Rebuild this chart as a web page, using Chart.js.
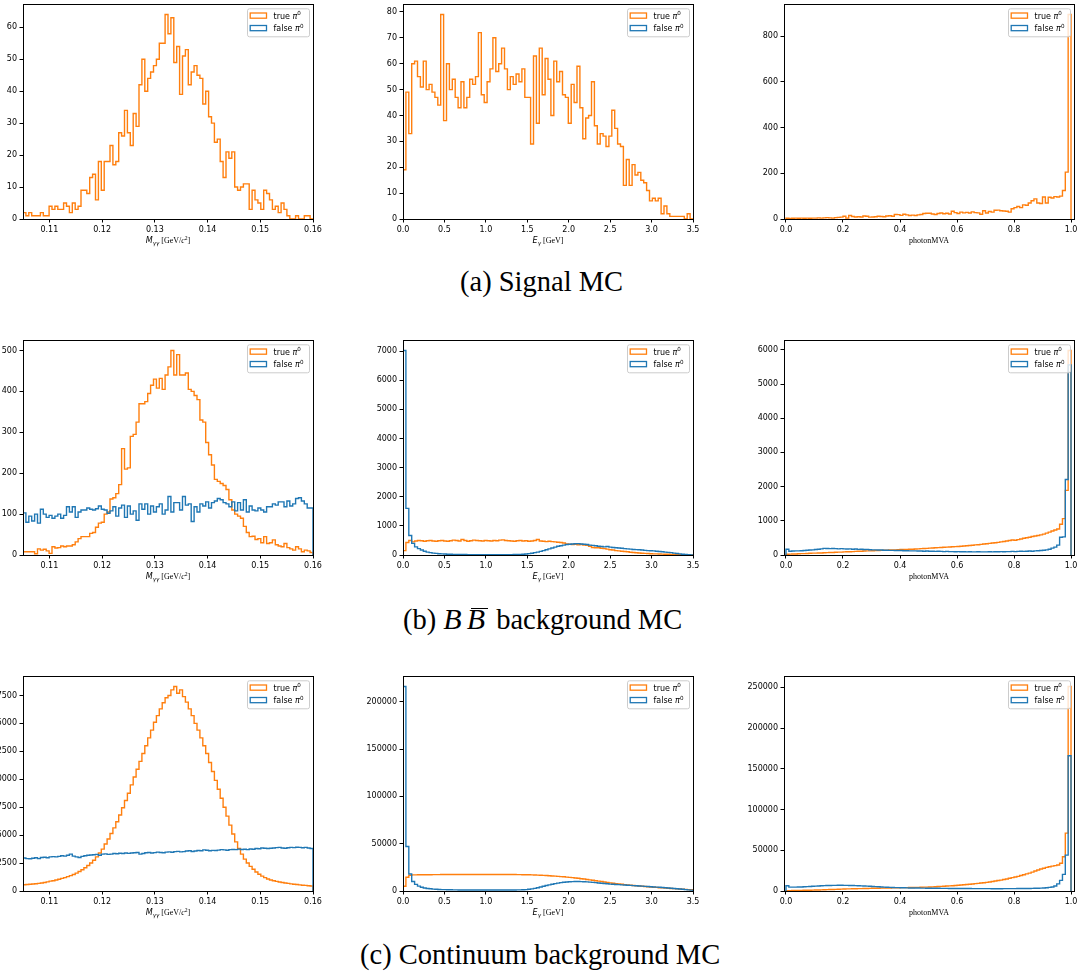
<!DOCTYPE html>
<html>
<head>
<meta charset="utf-8">
<script src="https://cdn.jsdelivr.net/npm/chart.js@4.4.0/dist/chart.umd.min.js"></script>
<style>
html, body { margin: 0; padding: 0; background: #fff; }
body { position: relative; width: 1079px; height: 976px; overflow: hidden; }
canvas { position: absolute; }
.cap { position: absolute; font-family: "Liberation Serif", "Times New Roman", serif; font-size: 28.5px; line-height: 28.5px; white-space: nowrap; color: #000; }
.mb { font-size: 30px; }
.ob { position: relative; display: inline-block; }
.ob::before { content: ""; position: absolute; left: 4px; right: -3px; top: 2.5px; border-top: 1.3px solid #000; }
</style>
</head>
<body>
<canvas id="c0"></canvas><canvas id="c1"></canvas><canvas id="c2"></canvas>
<canvas id="c3"></canvas><canvas id="c4"></canvas><canvas id="c5"></canvas>
<canvas id="c6"></canvas><canvas id="c7"></canvas><canvas id="c8"></canvas>
<div class="cap" style="left:460px;top:268px">(a) Signal MC</div>
<div class="cap" style="left:403px;top:605px">(b) <i class="mb" style="margin-right:5px">B</i><span class="ob"><i class="mb">B</i></span><span style="margin-left:4px"> background MC</span></div>
<div class="cap" style="left:360px;top:941px">(c) Continuum background MC</div>
<script>
const ORANGE = "#ff7f0e";
const BLUE = "#1f77b4";

// histogram ranges (100 bins each)
const massRange = [0.105, 0.16];
const energyRange = [0, 3.5];
const mvaRange = [0, 1];

// axis limits
const massXlim = [0.105, 0.16];
const energyXlim = [0, 3.5];
const mvaXlim = [-0.007, 1.0105];

// x tick labels
const massTicks = [0.11, 0.12, 0.13, 0.14, 0.15, 0.16];
const massTickLabels = ["0.11", "0.12", "0.13", "0.14", "0.15", "0.16"];
const energyTicks = [0, 0.5, 1, 1.5, 2, 2.5, 3, 3.5];
const energyTickLabels = ["0.0", "0.5", "1.0", "1.5", "2.0", "2.5", "3.0", "3.5"];
const mvaTicks = [0, 0.2, 0.4, 0.6, 0.8, 1];
const mvaTickLabels = ["0.0", "0.2", "0.4", "0.6", "0.8", "1.0"];

// y ticks
const sigMassYTicks = [0, 10, 20, 30, 40, 50, 60];
const sigEnergyYTicks = [0, 10, 20, 30, 40, 50, 60, 70, 80];
const sigMvaYTicks = [0, 200, 400, 600, 800];
const bbMassYTicks = [0, 100, 200, 300, 400, 500];
const bbEnergyYTicks = [0, 1000, 2000, 3000, 4000, 5000, 6000, 7000];
const bbMvaYTicks = [0, 1000, 2000, 3000, 4000, 5000, 6000];
const contMassYTicks = [0, 2500, 5000, 7500, 10000, 12500, 15000, 17500];
const contEnergyYTicks = [0, 50000, 100000, 150000, 200000];
const contMvaYTicks = [0, 50000, 100000, 150000, 200000, 250000];

// ---- signal MC ----
const sigMassTrue = [2,1,2,1,1,1,2,1,1,
  4,3,4,3,3,5,4,2,5,3,4,
  9,9,8,13,14,6,18,9,18,18,
  23,17,18,27,26,34,27,23,33,29,
  42,50,40,44,46,48,50,
  55,55,64,58,63,49,54,39,51,53,42,46,48,45,44,36,
  40,32,30,24,25,18,13,21,19,21,
  10,9,10,11,11,3,9,6,5,3,
  9,8,6,3,4,2,5,3,1,0,
  0,1,0,0,1,1,0];
const sigEnergyTrue = [19,49,33,60,61,55,51,61,50,52,
  49,47,44,79,38,60,50,54,47,43,
  53,43,47,54,52,55,72,48,45,53,
  58,70,57,60,66,58,50,55,52,56,
  53,58,47,47,29,63,37,66,48,62,
  54,40,61,53,57,48,47,37,52,45,
  59,43,31,39,40,53,36,29,33,32,
  28,32,42,35,29,28,13,23,13,21,
  17,18,15,14,11,7,8,7,8,2,
  5,2,1,1,1,1,1,0,2,0];
const sigMvaTrue = [3,2,3,4,3,4,3,4,3,4,
  4,5,4,5,6,5,4,6,7,8,
  12,4,15,11,9,10,9,13,12,8,
  9,10,12,11,10,13,14,12,20,19,
  16,21,18,15,17,15,18,20,24,25,
  25,22,20,24,26,23,25,22,34,28,
  24,30,27,29,26,31,28,27,21,36,
  26,33,30,38,39,36,35,34,30,45,
  50,55,50,62,60,70,80,88,70,68,
  96,70,95,92,98,96,100,125,205,895];

// ---- B Bbar background MC ----
const bbMassTrue = [8,8,8,8,3,15,12,14,10,4,
  20,17,18,22,20,22,22,25,32,40,
  45,45,45,53,55,68,78,80,100,105,
  137,140,150,172,260,210,213,290,295,325,
  370,370,375,395,415,430,408,432,405,440,
  460,500,440,490,440,440,445,405,400,390,
  380,330,325,275,245,220,185,180,175,170,
  160,135,110,100,95,90,70,55,45,46,
  38,40,30,45,28,30,37,25,22,20,
  28,18,15,12,20,15,8,12,10,6];
const bbMassFalse = [103,80,95,83,100,78,112,100,92,97,
  90,95,100,90,97,118,105,118,92,105,
  110,110,115,112,110,113,120,112,110,102,
  108,118,95,115,122,92,120,100,108,85,
  125,112,125,100,120,105,118,125,100,110,
  143,105,128,128,110,143,122,125,82,118,
  105,125,120,130,115,128,132,138,135,128,
  125,118,130,108,128,110,135,105,120,110,
  108,115,110,105,118,118,125,122,130,130,
  118,132,120,125,138,140,132,125,115,115];
const bbEnergyTrue = [150,430,500,450,480,500,490,470,490,500,
  480,470,490,500,480,470,490,510,500,480,
  530,500,470,490,510,500,490,480,500,490,
  480,500,490,510,520,500,490,480,470,490,
  500,480,490,470,480,500,530,480,470,460,
  470,460,450,440,430,410,380,370,360,370,
  350,360,340,330,300,260,250,250,230,220,
  200,180,170,150,140,130,120,110,95,85,
  75,70,60,55,50,45,40,38,35,30,
  28,25,22,18,15,12,10,8,6,5];
const bbEnergyFalse = [7020,1600,670,400,280,220,170,130,100,80,
  65,55,45,38,32,28,25,22,20,18,
  16,15,14,13,12,12,11,11,10,10,
  10,10,10,11,11,12,13,14,16,18,
  22,28,36,48,62,80,100,125,150,180,
  210,240,270,300,320,340,360,370,380,385,
  390,380,370,360,340,330,320,300,290,280,
  290,270,260,250,240,230,220,210,200,190,
  185,180,170,160,150,145,140,130,120,110,
  100,90,80,65,50,38,28,20,12,6];
const bbMvaTrue = [20,25,30,30,35,40,40,45,50,55,
  55,60,60,65,70,75,75,80,85,85,
  90,95,95,100,105,110,110,115,120,120,
  125,130,130,135,140,140,145,150,150,155,
  160,160,165,170,170,175,180,185,190,195,
  200,205,210,215,220,225,230,235,240,245,
  250,255,265,270,280,285,295,300,310,320,
  330,340,350,360,370,385,395,410,425,440,
  430,450,470,490,505,520,540,555,570,590,
  610,640,670,700,730,760,900,1065,1890,5980];
const bbMvaFalse = [170,110,115,120,120,125,130,140,145,150,
  160,170,180,195,190,185,190,185,180,185,
  180,175,180,170,175,165,170,160,165,155,
  150,150,145,145,140,140,135,135,130,130,
  130,125,125,120,120,120,115,115,110,115,
  110,110,105,110,105,100,105,100,100,95,
  100,95,95,90,95,90,90,95,90,90,
  90,95,90,95,95,100,95,100,100,105,
  100,105,110,105,110,115,110,120,125,130,
  140,150,170,200,230,290,520,530,2210,5560];

// ---- continuum background MC ----
const contMassTrue = [560,580,600,620,650,680,720,760,820,880,
  920,980,1050,1130,1200,1290,1380,1480,1600,1750,
  1900,2080,2280,2500,2750,3050,3400,3750,4200,4650,
  5150,5650,6200,6800,7450,8100,8750,9500,10200,10900,
  11600,12300,13000,13700,14400,15100,15700,16300,16850,17300,
  17500,18000,18300,17700,18000,17400,16900,16300,15700,15000,
  14400,13700,13000,12300,11500,10700,9900,9100,8300,7500,
  6700,5900,5100,4400,3800,3300,2850,2500,2200,1950,
  1700,1500,1330,1200,1080,990,920,860,810,760,
  720,680,640,610,580,550,520,500,470,450];
const contMassFalse = [2950,2900,2880,2930,2970,2900,3000,3020,2980,3050,
  3080,3050,3100,3150,3120,3200,3300,3120,3050,3000,
  3100,3150,3200,3220,3250,3280,3200,3300,3320,3280,
  3300,3350,3330,3380,3350,3400,3370,3400,3420,3450,
  3300,3350,3420,3450,3400,3430,3480,3450,3420,3480,
  3500,3470,3520,3550,3500,3520,3580,3600,3540,3580,
  3620,3600,3680,3650,3600,3640,3620,3660,3700,3680,
  3650,3700,3720,3700,3750,3720,3740,3700,3760,3740,
  3800,3780,3850,3830,3800,3820,3850,3880,3900,3850,
  3830,3870,3900,3880,3920,3900,3870,3900,3850,3800];
const contEnergyTrue = [5000,14500,16500,17000,17000,17100,17100,17200,17200,17200,
  17300,17300,17300,17400,17400,17400,17500,17500,17500,17500,
  17500,17500,17500,17500,17400,17400,17400,17400,17400,17400,
  17500,17500,17500,17500,17500,17500,17400,17400,17400,17300,
  17300,17200,17200,17100,17000,16900,16800,16700,16500,16300,
  16100,15900,15700,15500,15200,15000,14700,14400,14100,13800,
  13400,13000,12600,12200,11800,11300,10900,10400,10000,9500,
  9000,8600,8200,7800,7400,7100,6700,6400,6100,5800,
  5600,5300,5000,4800,4500,4300,4000,3800,3500,3300,
  3100,2900,2700,2500,2300,2100,1900,1700,1500,1300];
const contEnergyFalse = [216000,47000,18000,10000,7000,5200,4000,3200,2700,2300,
  2000,1800,1600,1500,1400,1300,1250,1200,1150,1100,
  1100,1050,1050,1000,1000,1000,1000,1000,1000,1000,
  1000,1000,1000,1000,1000,1050,1050,1100,1100,1150,
  1200,1300,1500,1800,2200,2800,3500,4200,5000,5800,
  6500,7200,7800,8300,8800,9200,9500,9700,9900,10000,
  10000,9900,9800,9600,9400,9100,8800,8500,8200,7900,
  7600,7300,7100,6900,6700,6500,6300,6100,5900,5700,
  5500,5300,5100,4900,4700,4500,4300,4100,3900,3700,
  3400,3100,2900,2600,2400,2100,1800,1500,1200,900];
const contMvaTrue = [400,500,550,650,700,800,850,950,1000,1100,
  1200,1300,1400,1550,1650,1800,1900,2050,2200,2350,
  2500,2580,2650,2730,2800,2880,2950,3050,3130,3200,
  3300,3380,3450,3530,3600,3680,3750,3850,3930,4000,
  4100,4150,4200,4300,4350,4450,4500,4600,4700,4800,
  4900,5100,5300,5500,5700,5900,6100,6300,6500,6750,
  7000,7300,7600,7900,8200,8600,9000,9400,9800,10200,
  10600,11100,11600,12200,12800,13400,14100,14800,15600,16400,
  17200,18000,19000,20000,21000,22000,23200,24500,25800,27000,
  28000,29000,29800,30500,31200,32000,34000,42000,71000,251000];
const contMvaFalse = [6500,4800,4700,4800,4900,5000,5200,5400,5600,5800,
  6000,6200,6400,6600,6700,6800,6900,6900,7000,7000,
  6900,6900,6800,6700,6600,6500,6300,6200,6000,5800,
  5600,5400,5200,5000,4800,4600,4500,4300,4200,4100,
  4000,3900,3800,3750,3700,3650,3600,3550,3500,3450,
  3400,3350,3300,3300,3250,3200,3200,3150,3100,3100,
  3050,3050,3000,3000,3000,2950,2950,2950,2900,2900,
  2900,2900,2850,2850,2850,2850,2900,2900,2900,2950,
  2950,3000,3000,3050,3100,3150,3200,3300,3400,3550,
  3700,4000,4400,5000,6200,8800,13000,20400,44000,166000];

// axis titles as styled text runs: [text, font, baseline shift]
const massTitle = [["M", "italic 8px 'DejaVu Sans'", 0], ["\u03b3\u03b3", "italic 5.6px 'DejaVu Sans'", 1.8],
  [" [GeV/", "8px 'Liberation Serif'", 0], ["c", "italic 8px 'Liberation Serif'", 0],
  ["2", "5.6px 'Liberation Serif'", -3.3], ["]", "8px 'Liberation Serif'", 0]];
const energyTitle = [["E", "italic 8px 'DejaVu Sans'", 0], ["\u03b3", "italic 5.6px 'DejaVu Sans'", 1.8],
  [" [GeV]", "8px 'Liberation Serif'", 0]];
const mvaTitle = [["photonMVA", "8px 'Liberation Serif'", 0]];

const legendEntries = [["true", ORANGE], ["false", BLUE]];

const cols = [
  { L: 23, W: 290, range: massRange, xlim: massXlim, ticks: massTicks, labels: massTickLabels, title: massTitle },
  { L: 403, W: 290, range: energyRange, xlim: energyXlim, ticks: energyTicks, labels: energyTickLabels, title: energyTitle },
  { L: 784, W: 290, range: mvaRange, xlim: mvaXlim, ticks: mvaTicks, labels: mvaTickLabels, title: mvaTitle },
];
const rowTops = [3, 339, 675];
const plotH = 216;

const panels = [
  { row: 0, col: 0, yTicks: sigMassYTicks, trueV: sigMassTrue, falseV: null },
  { row: 0, col: 1, yTicks: sigEnergyYTicks, trueV: sigEnergyTrue, falseV: null },
  { row: 0, col: 2, yTicks: sigMvaYTicks, trueV: sigMvaTrue, falseV: null },
  { row: 1, col: 0, yTicks: bbMassYTicks, trueV: bbMassTrue, falseV: bbMassFalse },
  { row: 1, col: 1, yTicks: bbEnergyYTicks, trueV: bbEnergyTrue, falseV: bbEnergyFalse },
  { row: 1, col: 2, yTicks: bbMvaYTicks, trueV: bbMvaTrue, falseV: bbMvaFalse },
  { row: 2, col: 0, yTicks: contMassYTicks, trueV: contMassTrue, falseV: contMassFalse },
  { row: 2, col: 1, yTicks: contEnergyYTicks, trueV: contEnergyTrue, falseV: contEnergyFalse },
  { row: 2, col: 2, yTicks: contMvaYTicks, trueV: contMvaTrue, falseV: contMvaFalse },
];

// outline of a step histogram: left edge up, flat tops, right edge down
function stepPoints(values, range) {
  const w = (range[1] - range[0]) / values.length;
  const pts = [{ x: range[0], y: 0 }];
  values.forEach((v, i) => pts.push({ x: range[0] + i * w, y: v }));
  pts.push({ x: range[1], y: values[values.length - 1] });
  pts.push({ x: range[1], y: 0 });
  return pts;
}

function runsWidth(ctx, runs) {
  let w = 0;
  runs.forEach(r => { ctx.font = r[1]; w += ctx.measureText(r[0]).width; });
  return w;
}

function drawRuns(ctx, runs, x, y) {
  runs.forEach(r => {
    ctx.font = r[1];
    ctx.fillText(r[0], x, y + r[2]);
    x += ctx.measureText(r[0]).width;
  });
}

const panelPlugin = {
  id: "panel",
  afterDraw(chart, args, opts) {
    const ctx = chart.ctx;
    const a = chart.chartArea;
    ctx.save();
    ctx.strokeStyle = "#000";
    ctx.lineWidth = 1;
    ctx.strokeRect(Math.round(a.left) + 0.5, Math.round(a.top) + 0.5,
      Math.round(a.right - a.left), Math.round(a.bottom - a.top));

    ctx.fillStyle = "#000";
    ctx.textBaseline = "alphabetic";
    ctx.textAlign = "left";
    const tw = runsWidth(ctx, opts.title);
    drawRuns(ctx, opts.title, (a.left + a.right) / 2 - tw / 2, a.bottom + 24);

    // legend box in upper right corner
    const lw = 62, lh = 28;
    const fx = a.right - 3.5 - lw, fy = a.top + 4.5;
    const r = 2;
    ctx.beginPath();
    ctx.moveTo(fx + r, fy);
    ctx.arcTo(fx + lw, fy, fx + lw, fy + lh, r);
    ctx.arcTo(fx + lw, fy + lh, fx, fy + lh, r);
    ctx.arcTo(fx, fy + lh, fx, fy, r);
    ctx.arcTo(fx, fy, fx + lw, fy, r);
    ctx.closePath();
    ctx.fillStyle = "rgba(255,255,255,0.8)";
    ctx.fill();
    ctx.strokeStyle = "#cccccc";
    ctx.lineWidth = 1;
    ctx.stroke();
    legendEntries.forEach((e, i) => {
      const cy = fy + 6.8 + i * 12.5;
      ctx.strokeStyle = e[1];
      ctx.lineWidth = 1.3;
      ctx.strokeRect(fx + 2.7, cy - 2.6, 16.3, 5.2);
      ctx.fillStyle = "#000";
      drawRuns(ctx, [[e[0] + " ", "8px 'DejaVu Sans'", 0], ["\u03c0", "italic 8px 'DejaVu Sans'", 0],
        ["0", "5.6px 'DejaVu Sans'", -3.4]], fx + 26, cy + 3);
    });
    ctx.restore();
  }
};

const YW = 60, XH = 32, PT = 6, PR = 14;

panels.forEach((p, k) => {
  const c = cols[p.col];
  const top = rowTops[p.row];
  const canvas = document.getElementById("c" + k);
  canvas.width = YW + c.W + PR;
  canvas.height = PT + plotH + XH;
  canvas.style.left = (c.L - YW) + "px";
  canvas.style.top = (top - PT) + "px";

  const datasets = [];
  if (p.falseV) {
    datasets.push({ data: stepPoints(p.falseV, c.range), borderColor: BLUE });
  }
  datasets.push({ data: stepPoints(p.trueV, c.range), borderColor: ORANGE });
  datasets.forEach(d => Object.assign(d, { borderWidth: 1.4, pointRadius: 0, fill: false, stepped: true, tension: 0 }));

  const all = p.trueV.concat(p.falseV || []);
  const ymax = Math.max(...all) * 1.05;

  const tickFont = { family: "'DejaVu Sans'", size: 8 };
  const grid = { display: true, drawOnChartArea: false, drawTicks: true, tickLength: 3.5, tickColor: "#000", tickWidth: 1 };

  new Chart(canvas, {
    type: "line",
    data: { datasets: datasets },
    options: {
      responsive: false,
      animation: false,
      devicePixelRatio: 1,
      events: [],
      layout: { padding: { top: PT, right: PR, left: 0, bottom: 0 } },
      plugins: {
        legend: { display: false },
        tooltip: { enabled: false },
        panel: { title: c.title }
      },
      scales: {
        x: {
          type: "linear",
          min: c.xlim[0],
          max: c.xlim[1],
          grid: grid,
          border: { display: false },
          ticks: { font: tickFont, color: "#000", padding: 2.5, maxRotation: 0, autoSkip: false,
            callback: (v, i) => c.labels[i] },
          afterBuildTicks: s => { s.ticks = c.ticks.map(v => ({ value: v })); },
          afterFit: s => { s.height = XH; }
        },
        y: {
          type: "linear",
          min: 0,
          max: ymax,
          grid: grid,
          border: { display: false },
          ticks: { font: tickFont, color: "#000", padding: 2.5, autoSkip: false,
            callback: (v, i) => String(p.yTicks[i]) },
          afterBuildTicks: s => { s.ticks = p.yTicks.map(v => ({ value: v })); },
          afterFit: s => { s.width = YW; }
        }
      }
    },
    plugins: [panelPlugin]
  });
});
</script>
</body>
</html>
